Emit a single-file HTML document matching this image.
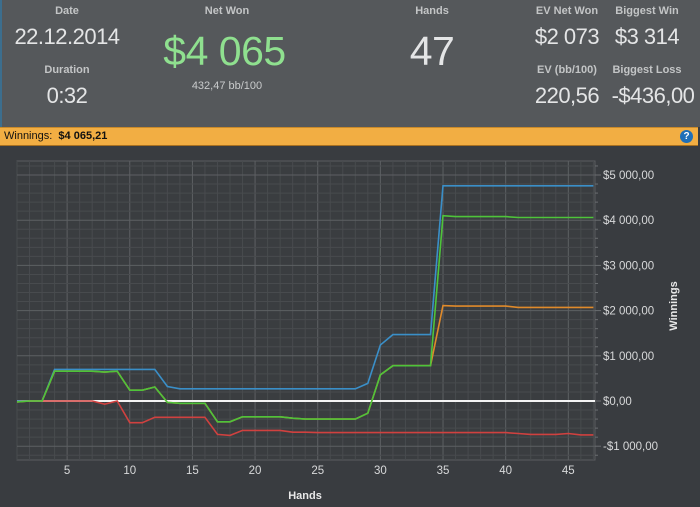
<!DOCTYPE html>
<html><head><meta charset="utf-8"><style>
body{margin:0;width:700px;height:507px;overflow:hidden;background:#393c40;font-family:"Liberation Sans",sans-serif;}
#hdr{position:absolute;left:0;top:0;width:700px;height:127px;background:#55585b;border-left:2px solid #3c6e8e;box-sizing:border-box;}
.l{position:absolute;color:#c3c5c6;font-size:11px;font-weight:bold;text-align:center;}
.v{position:absolute;color:#e4e5e6;text-align:center;white-space:nowrap;letter-spacing:-0.5px;}
#bar{position:absolute;left:0;top:127px;width:698px;height:19px;background:#f2ae43;border-top:1px solid #c98a2a;border-bottom:1px solid #a87020;box-sizing:border-box;font-size:11px;line-height:17px;padding-left:4px;color:#111;}
#help{position:absolute;right:5px;top:2px;width:13px;height:13px;border-radius:50%;background:#1f6fb8;color:#fff;font-size:10px;font-weight:bold;text-align:center;line-height:13px;}
svg{position:absolute;left:0;top:146px;}
</style></head><body>
<div id="hdr">
<div class="l" style="left:20px;top:5px;width:90px">Date</div>
<div class="v" style="left:5px;top:24px;width:120px;font-size:22px">22.12.2014</div>
<div class="l" style="left:20px;top:64px;width:90px">Duration</div>
<div class="v" style="left:20px;top:83px;width:90px;font-size:22px">0:32</div>
<div class="l" style="left:170px;top:5px;width:110px">Net Won</div>
<div class="v" style="left:140px;top:28px;width:165px;font-size:41px;color:#8fe08f">$4 065</div>
<div class="v" style="left:170px;top:80px;width:110px;font-size:11px;color:#c9cbcc;letter-spacing:0">432,47 bb/100</div>
<div class="l" style="left:390px;top:5px;width:80px">Hands</div>
<div class="v" style="left:380px;top:28px;width:100px;font-size:41px">47</div>
<div class="l" style="left:520px;top:5px;width:90px">EV Net Won</div>
<div class="v" style="left:520px;top:24px;width:90px;font-size:22px">$2 073</div>
<div class="l" style="left:600px;top:5px;width:90px">Biggest Win</div>
<div class="v" style="left:600px;top:24px;width:90px;font-size:22px">$3 314</div>
<div class="l" style="left:520px;top:64px;width:90px">EV (bb/100)</div>
<div class="v" style="left:520px;top:83px;width:90px;font-size:22px">220,56</div>
<div class="l" style="left:600px;top:64px;width:90px">Biggest Loss</div>
<div class="v" style="left:606px;top:83px;width:90px;font-size:22px">-$436,00</div>
</div>
<div id="bar">Winnings: &nbsp;<b>$4 065,21</b><div id="help">?</div></div>
<svg id="chart" width="700" height="361"></svg>
<script>
const hands=[1,2,3,4,5,6,7,8,9,10,11,12,13,14,15,16,17,18,19,20,21,22,23,24,25,26,27,28,29,30,31,32,33,34,35,36,37,38,39,40,41,42,43,44,45,46,47];
const allinEV=[0,0,0,700,700,700,700,700,700,700,700,700,320,270,270,270,270,270,270,270,270,270,270,270,270,270,270,270,390,1240,1470,1470,1470,1470,4760,4760,4760,4760,4760,4760,4760,4760,4760,4760,4760,4760,4760];
const netWon=[-20,0,0,660,660,660,660,640,660,240,240,310,-30,-50,-50,-50,-460,-460,-350,-350,-350,-350,-380,-400,-400,-400,-400,-400,-270,580,780,780,780,780,4100,4080,4080,4080,4080,4080,4060,4060,4060,4060,4060,4060,4060];
const evWon=[-20,0,0,660,660,660,660,640,660,240,240,310,-30,-50,-50,-50,-460,-460,-350,-350,-350,-350,-380,-400,-400,-400,-400,-400,-270,580,780,780,780,780,2110,2100,2100,2100,2100,2100,2070,2070,2070,2070,2070,2070,2070];
const showdown=[0,0,0,0,0,0,0,-70,0,-480,-480,-360,-360,-360,-360,-360,-740,-760,-650,-650,-650,-650,-690,-690,-700,-700,-700,-700,-700,-700,-700,-700,-700,-700,-700,-700,-700,-700,-700,-700,-720,-740,-740,-740,-720,-750,-750];
const yTicks=[5000,4000,3000,2000,1000,0,-1000];
const yTickLabels=["$5 000,00","$4 000,00","$3 000,00","$2 000,00","$1 000,00","$0,00","-$1 000,00"];
const xTicks=[5,10,15,20,25,30,35,40,45];
const NS='http://www.w3.org/2000/svg';
const svg=document.getElementById('chart');
const L=17,R=595,T=15,B=314;
const X=h=>17+(h-1)*12.53;
const Y=v=>255-v*0.0452;
function mk(t,a){const e=document.createElementNS(NS,t);for(const k in a)e.setAttribute(k,a[k]);svg.appendChild(e);return e;}
let e=mk('rect',{x:L,y:T,width:R-L,height:B-T,fill:'#3a3d40',stroke:'#5a5d60'});


for(let h=1;h<=47;h++){const x=X(h);e=mk('line',{x1:x,x2:x,y1:T,y2:B,stroke:h%5==0?'#5d6063':'#484b4e','stroke-width':1});

}
for(let v=-1200;v<=5600;v+=200){const y=Y(v);if(y<T||y>B)continue;e=mk('line',{x1:L,x2:R,y1:y,y2:y,stroke:v%1000==0?'#5d6063':'#484b4e','stroke-width':1});


e=mk('line',{x1:R,x2:R+(v%1000==0?6:3),y1:y,y2:y,stroke:'#6a6d70'});

}
yTicks.forEach((v,i)=>{e=mk('text',{x:R+8,y:Y(v)+4,fill:'#d8d9da','font-size':11.5,'font-family':'Liberation Sans, sans-serif'});e.textContent=yTickLabels[i];

});
xTicks.forEach(h=>{e=mk('text',{x:X(h),y:B+14,fill:'#d8d9da','font-size':11.5,'text-anchor':'middle','font-family':'Liberation Sans, sans-serif'});e.textContent=h;

});
e=mk('text',{x:305,y:353,fill:'#e8e8e8','font-size':11,'font-weight':'bold','text-anchor':'middle','font-family':'Liberation Sans, sans-serif'});e.textContent='Hands';


e=mk('text',{x:0,y:0,fill:'#e8e8e8','font-size':11,'font-weight':'bold','text-anchor':'middle','transform':'translate(677,160) rotate(-90)','font-family':'Liberation Sans, sans-serif'});e.textContent='Winnings';


e=mk('line',{x1:L,x2:R,y1:Y(0),y2:Y(0),stroke:'#f4f4f4','stroke-width':2});


function series(d,c,n){const p=d.map((v,i)=>X(hands[i]).toFixed(1)+','+Y(v).toFixed(1)).join(' ');const s=mk('polyline',{points:p,fill:'none',stroke:c,'stroke-width':1.6});

}
series(showdown,'#d0413f','showdown-line');
series(allinEV,'#3a8fc8','allin-ev-line');
series(evWon,'#e08a2a','ev-won-line');
series(netWon,'#4ec43a','net-won-line');
</script>
</body></html>
